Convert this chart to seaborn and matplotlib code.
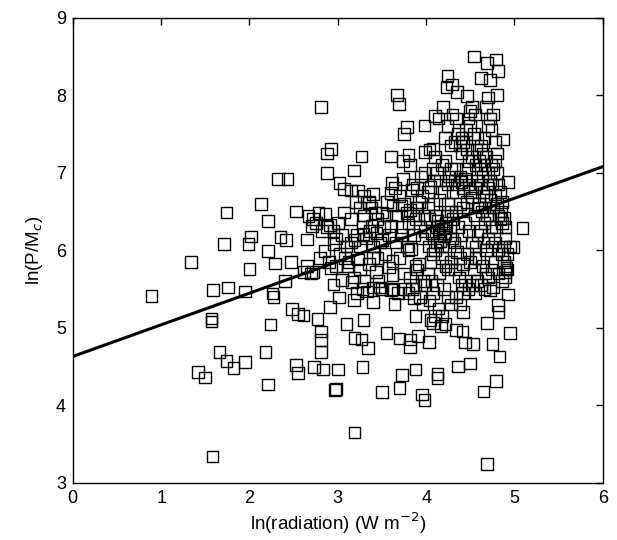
import seaborn as sns
import matplotlib.pyplot as plt
import pandas as pd

# ln(radiation) and ln(P/Mc)
rad = [
    0.89, 1.34, 1.59, 1.76, 1.71, 1.74, 1.57, 1.57, 1.42, 1.50, 1.66, 1.74, 1.82, 1.95, 1.58,
    1.95, 2.00, 1.99, 2.02, 2.13, 2.21, 2.21, 2.29, 2.26, 2.27, 2.24, 2.18, 2.21, 2.32, 2.43,
    2.35, 2.41, 2.40, 2.48, 2.53, 2.47, 2.61, 2.55, 2.53, 2.55, 2.65, 2.67, 2.71, 2.72, 2.73,
    2.77, 2.81, 2.81, 2.81, 2.83, 2.81, 2.88, 2.88, 2.92, 2.86, 2.91, 2.85, 2.95, 2.92, 2.95,
    2.91, 3.00, 2.98, 2.97, 3.02, 3.07, 3.07, 3.01, 3.11, 3.10, 3.18, 3.27, 3.15, 3.23, 3.16,
    3.18, 3.19, 3.27, 3.29, 3.34, 3.28, 3.19, 3.15, 3.19, 3.23, 3.29, 3.35, 3.40, 3.38, 3.40,
    3.43, 3.33, 3.40, 3.48, 3.50, 3.50, 3.55, 3.50, 3.60, 3.61, 3.60, 3.60, 3.62, 3.62, 3.64,
    3.60, 3.67, 3.69, 3.75, 3.78, 3.74, 3.80, 3.72, 3.70, 3.73, 3.70, 3.82, 3.82, 3.88, 3.91,
    3.88, 3.95, 3.98, 3.98, 3.99, 4.03, 4.08, 4.10, 4.13, 4.13, 4.18, 4.08, 4.17, 4.19, 4.24,
    4.23, 4.29, 4.35, 4.46, 4.34, 4.41, 4.44, 4.36, 4.42, 4.50, 4.53, 4.54, 4.69, 4.79, 4.81,
    4.62, 4.72, 4.70, 4.80, 4.65, 4.69, 4.79, 4.75, 4.83, 4.95, 4.93, 5.09, 4.98, 4.93, 4.87,
    4.69, 4.81, 4.82, 4.89, 4.91,
    # dense cloud, x 3.3-3.7
    3.35, 3.38, 3.42, 3.45, 3.36, 3.44, 3.48, 3.40, 3.52, 3.55, 3.58, 3.62, 3.66, 3.54, 3.58,
    3.66, 3.46, 3.50, 3.40, 3.62, 3.68, 3.70, 3.72, 3.70, 3.65, 3.35, 3.45, 3.30, 3.32, 3.56,
    # x 3.7-4.0
    3.75, 3.78, 3.80, 3.82, 3.85, 3.88, 3.90, 3.92, 3.84, 3.85, 3.90, 3.95, 3.78, 3.80, 3.83,
    3.88, 3.90, 3.92, 3.76, 3.80, 3.84, 3.86, 3.88, 3.93, 3.96, 3.97, 3.98, 3.75, 3.82, 3.95,
    3.98, 3.93, 3.98, 3.98, 3.82, 3.74, 3.72, 3.86, 3.94,
    # x 4.0-4.3
    4.02, 4.05, 4.08, 4.10, 4.12, 4.14, 4.15, 4.16, 4.18, 4.19, 4.20, 4.22, 4.12, 4.10, 4.08,
    4.13, 4.17, 4.21, 4.06, 4.04, 4.02, 4.03, 4.05, 4.02, 4.06, 4.08, 4.04, 4.12, 4.15, 4.18,
    4.22, 4.25, 4.28, 4.20, 4.25, 4.28, 4.14, 4.10, 4.22, 4.05, 4.15, 4.20, 4.24, 4.26, 4.28,
    4.18, 4.22, 4.10, 4.04, 4.12, 4.16, 4.25, 4.28, 4.24, 4.27, 4.29, 4.26, 4.09, 4.07, 4.14,
    4.24, 4.28, 4.21,
    # x 4.3-4.6
    4.30, 4.34, 4.36, 4.32, 4.38, 4.40, 4.42, 4.45, 4.48, 4.50, 4.52, 4.55, 4.50, 4.54, 4.58,
    4.46, 4.52, 4.56, 4.34, 4.38, 4.40, 4.42, 4.35, 4.32, 4.30, 4.44, 4.48, 4.50, 4.52, 4.55,
    4.58, 4.46, 4.42, 4.38, 4.34, 4.30, 4.36, 4.40, 4.44, 4.48, 4.52, 4.56, 4.58, 4.32, 4.35,
    4.38, 4.42, 4.46, 4.50, 4.54, 4.56, 4.33, 4.37, 4.40, 4.44, 4.48, 4.52, 4.56, 4.34, 4.38,
    4.42, 4.58, 4.55, 4.58, 4.45, 4.48, 4.40, 4.57,
    # x 4.6-4.95
    4.60, 4.62, 4.64, 4.66, 4.68, 4.70, 4.72, 4.74, 4.76, 4.78, 4.80, 4.62, 4.65, 4.68, 4.70,
    4.73, 4.75, 4.78, 4.60, 4.63, 4.66, 4.69, 4.72, 4.76, 4.79, 4.82, 4.84, 4.86, 4.88, 4.90,
    4.85, 4.62, 4.65, 4.68, 4.70, 4.74, 4.78, 4.82, 4.86, 4.88, 4.92, 4.60, 4.64, 4.67, 4.70,
    4.74, 4.78, 4.82, 4.86, 4.89, 4.92, 4.62, 4.66, 4.72, 4.76, 4.62, 4.66, 4.70, 4.74, 4.78,
    4.72, 4.68, 4.76, 4.64, 4.80, 4.82, 4.84, 4.86, 4.80, 4.66, 4.74, 4.88, 4.95, 4.90,
    # x 2.6-3.3 near the line
    2.72, 2.75, 2.78, 2.82, 2.88, 2.95, 3.00, 3.05, 3.10, 3.15, 3.22, 3.25, 3.28, 3.02, 3.08,
    3.12, 2.98, 2.90, 2.80, 2.65, 2.62, 2.70, 3.18, 3.25, 3.30, 3.28, 3.22, 3.05, 2.98, 3.20,
    3.25, 3.30,
]
pmc = [
    5.41, 5.85, 5.49, 5.52, 6.08, 6.49, 5.12, 5.08, 4.43, 4.36, 4.69, 4.57, 4.48, 4.56, 3.34,
    5.47, 5.76, 6.08, 6.18, 6.60, 6.38, 5.99, 5.83, 5.44, 5.40, 5.04, 4.69, 4.27, 6.92, 6.92,
    6.17, 6.13, 5.60, 5.24, 6.50, 5.85, 5.16, 5.18, 4.52, 4.42, 6.14, 6.44, 6.31, 5.72, 4.49,
    5.11, 4.95, 4.84, 4.69, 4.46, 7.85, 7.00, 7.25, 7.31, 6.47, 6.33, 5.99, 6.08, 5.77, 5.56,
    5.27, 4.46, 4.21, 4.20, 6.87, 6.79, 6.49, 5.39, 5.79, 5.05, 7.03, 7.21, 6.77, 6.77, 5.59,
    5.36, 4.87, 4.85, 5.10, 4.74, 4.49, 3.65, 6.40, 6.13, 5.88, 6.21, 6.61, 6.73, 6.31, 5.90,
    5.72, 5.47, 5.33, 5.52, 6.49, 6.13, 4.93, 4.17, 7.21, 6.87, 6.74, 6.31, 5.86, 5.68, 5.31,
    5.49, 8.00, 7.89, 7.50, 7.59, 7.15, 7.23, 6.58, 4.86, 4.39, 4.22, 4.85, 4.75, 4.46, 4.89,
    5.15, 4.14, 4.07, 7.61, 7.27, 4.82, 7.31, 7.73, 4.40, 4.35, 5.15, 5.06, 5.02, 7.85, 8.25,
    8.11, 8.14, 8.04, 7.99, 4.97, 4.95, 4.81, 4.50, 5.20, 4.54, 4.79, 8.50, 8.42, 8.46, 8.31,
    8.22, 8.20, 7.97, 8.00, 4.18, 3.24, 4.31, 4.79, 4.63, 4.93, 5.43, 6.29, 6.04, 6.88, 7.43,
    5.06, 5.29, 5.20, 5.72, 5.77,
    # dense cloud, x 3.3-3.7
    6.62, 6.55, 6.48, 6.40, 6.25, 6.22, 6.10, 6.05, 6.30, 6.45, 6.20, 6.58, 6.45, 5.95, 5.78,
    6.10, 5.60, 5.50, 5.52, 5.50, 5.45, 5.90, 6.30, 6.70, 6.80, 5.82, 5.90, 6.45, 6.15, 6.62,
    # x 3.7-4.0
    6.60, 6.48, 6.35, 6.52, 6.45, 6.40, 6.55, 6.62, 6.78, 6.85, 6.80, 6.70, 6.05, 6.00, 6.02,
    5.80, 5.75, 5.82, 5.50, 5.45, 5.50, 5.38, 5.55, 5.40, 5.30, 5.60, 5.55, 5.70, 5.65, 6.15,
    6.25, 6.30, 6.45, 7.00, 7.10, 6.92, 6.20, 6.20, 6.95,
    # x 4.0-4.3
    6.75, 6.82, 6.60, 6.45, 6.30, 6.25, 6.20, 6.12, 6.05, 6.28, 6.18, 6.35, 6.10, 6.00, 5.95,
    6.38, 6.32, 6.22, 6.22, 6.40, 6.55, 6.05, 5.85, 5.70, 5.60, 5.45, 5.35, 5.55, 5.70, 5.90,
    5.80, 5.75, 5.85, 5.50, 5.40, 5.30, 5.25, 5.15, 5.05, 5.10, 6.65, 6.75, 6.85, 6.95, 7.05,
    7.10, 7.15, 7.20, 7.30, 7.00, 6.90, 6.60, 6.50, 6.45, 6.30, 6.15, 6.05, 6.90, 7.05, 7.70,
    7.60, 7.35, 7.45,
    # x 4.3-4.6
    7.75, 7.70, 7.50, 7.40, 7.35, 7.25, 7.40, 7.55, 7.70, 7.80, 7.85, 7.75, 7.60, 7.50, 7.45,
    7.30, 7.20, 7.10, 7.05, 6.95, 6.88, 6.80, 6.85, 6.90, 6.75, 6.92, 6.85, 6.75, 6.68, 6.80,
    6.90, 6.62, 6.55, 6.60, 6.50, 6.40, 6.30, 6.20, 6.35, 6.25, 6.10, 6.05, 6.20, 6.10, 5.98,
    5.90, 5.82, 5.95, 5.85, 5.75, 5.90, 5.75, 5.65, 5.55, 5.60, 5.50, 5.55, 5.45, 5.40, 5.30,
    5.45, 5.60, 6.45, 6.55, 7.05, 7.15, 7.45, 7.30,
    # x 4.6-4.95
    7.15, 7.05, 6.95, 7.10, 7.20, 7.00, 6.90, 7.10, 7.05, 7.15, 7.00, 6.85, 6.75, 6.70, 6.80,
    6.65, 6.85, 6.72, 6.60, 6.50, 6.55, 6.45, 6.40, 6.55, 6.30, 6.45, 6.40, 6.35, 6.42, 6.30,
    6.50, 6.25, 6.10, 6.00, 6.15, 6.05, 6.10, 6.00, 5.95, 6.05, 5.95, 5.90, 5.80, 5.70, 5.65,
    5.75, 5.85, 5.70, 5.60, 5.65, 5.75, 5.55, 5.50, 5.48, 5.52, 7.35, 7.45, 7.60, 7.55, 7.40,
    7.70, 7.85, 7.75, 7.25, 7.25, 6.85, 6.75, 6.62, 6.60, 6.35, 6.30, 5.85, 6.05, 6.15,
    # x 2.6-3.3 near the line
    6.40, 6.35, 6.48, 6.25, 6.30, 6.25, 6.35, 6.20, 6.05, 6.10, 6.20, 6.05, 6.30, 5.95, 5.90,
    5.85, 5.80, 5.85, 5.90, 5.80, 5.72, 5.70, 5.65, 5.75, 5.60, 5.50, 5.45, 5.62, 6.15, 6.62,
    6.55, 6.70,
]

# fitted line end points
line_x = [0, 6]
line_y = [4.63, 7.08]

df = pd.DataFrame({"rad": rad, "pmc": pmc})

sns.set_style("white")
plt.rcParams["font.family"] = ["Liberation Sans", "DejaVu Sans"]
plt.rcParams["text.color"] = "black"
plt.rcParams["axes.labelcolor"] = "black"

fig = plt.figure(figsize=(6.17, 5.4), dpi=100)
ax = fig.add_axes([0.118, 0.106, 0.859, 0.861])

sns.scatterplot(data=df, x="rad", y="pmc", marker="s", s=70,
                facecolors="none", edgecolor="black", linewidth=1.0, ax=ax)
sns.lineplot(x=line_x, y=line_y, color="black", linewidth=2.2, ax=ax)

ax.set_xlim(0, 6)
ax.set_ylim(3, 9)
ax.set_xticks(range(0, 7))
ax.set_yticks(range(3, 10))
ax.tick_params(direction="in", length=5, width=1, top=True, right=True,
               labelsize=13, colors="black", pad=5)
for sp in ax.spines.values():
    sp.set_color("black")
    sp.set_linewidth(1.0)

ax.set_xlabel("ln(radiation) (W m$^{-2}$)", fontsize=13.5, labelpad=3)
ax.set_ylabel("ln(P/M$_c$)", fontsize=13.5, labelpad=8)

fig.savefig("out.png", dpi=100)
